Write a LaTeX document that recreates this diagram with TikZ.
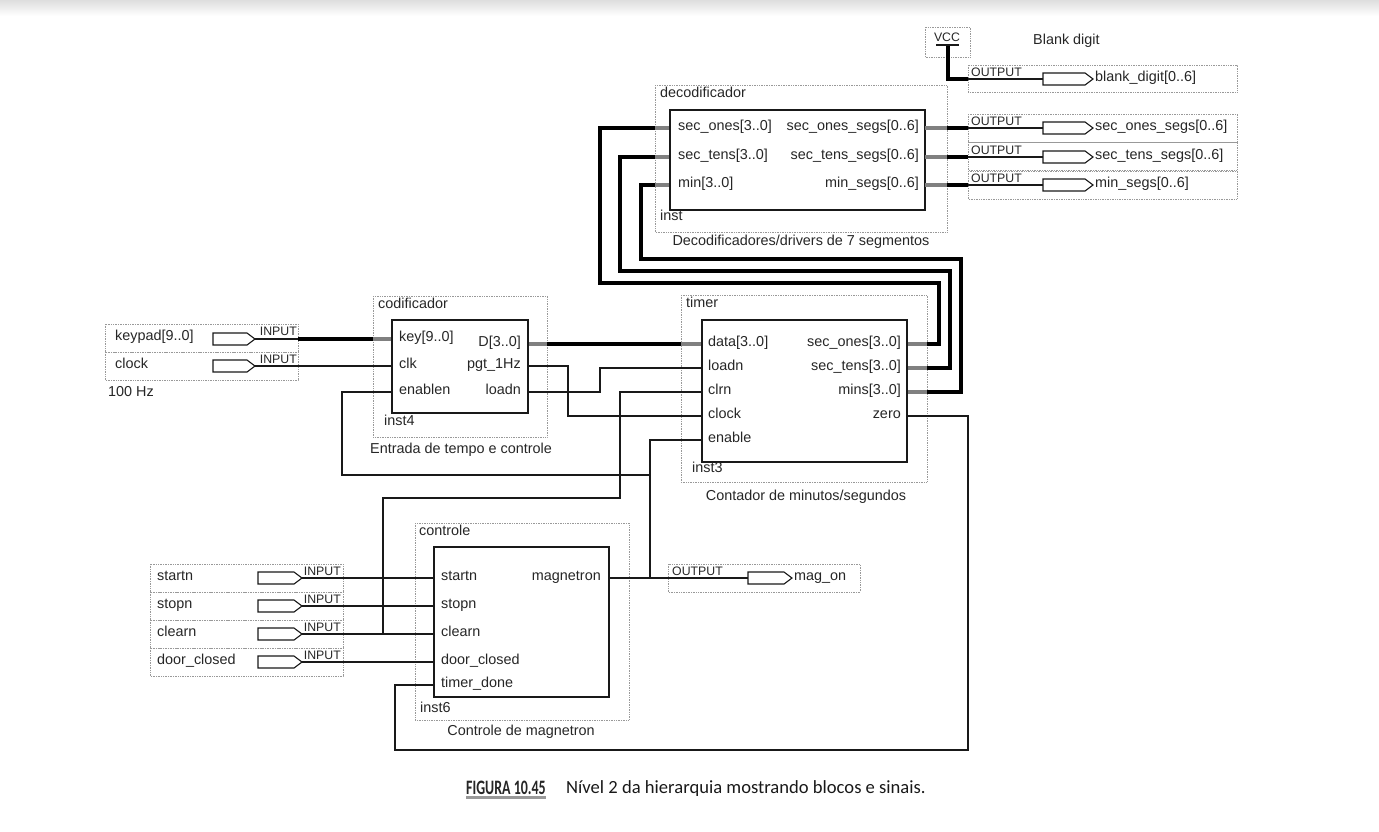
\documentclass[tikz,border=0pt]{standalone}
\usepackage{fontspec}
\setmainfont{Liberation Sans}
\newfontfamily\capfont{Carlito}
\newfontfamily\figfont[FakeStretch=0.68]{Carlito}
\usetikzlibrary{positioning}
\tikzstyle{frame} = [draw=black!40, densely dotted, line width=.7pt]
\tikzstyle{block} = [draw=black!90, line width=1.8pt]
\tikzstyle{wire} = [draw=black!90, line width=1.6pt]
\tikzstyle{bus} = [draw=black, line width=4.5pt]
\tikzstyle{stub} = [draw=black!50, line width=4.5pt]
\tikzstyle{pinshape} = [draw=black!90, line width=1.1pt, fill=white]
\tikzstyle{lbl} = [inner sep=0pt, text=black!85, font=\fontsize{14.4}{17}\selectfont]
\tikzstyle{tag} = [inner sep=0pt, text=black!85, font=\fontsize{12.3}{14}\selectfont]
% pin symbol: left end x, centre y, length
\newcommand{\iopin}[3]{\draw[pinshape] (#1,#2-6) -- ++(#3-8,0) -- ++(8,6) -- ++(-8,6) -- ++(8-#3,0) -- cycle;}

\begin{document}
\begin{tikzpicture}[x=1pt, y=-1pt]
\useasboundingbox (0,0) rectangle (1379,831);
\shade[top color=black!13, bottom color=white] (0,0) rectangle (1379,16);

% dotted frames
\draw[frame] (105,324) rectangle (298,352);
\draw[frame] (105,352) rectangle (298,380);
\draw[frame] (373,296) rectangle (547,437);
\draw[frame] (681,295) rectangle (927,482);
\draw[frame] (655,85) rectangle (947,232);
\draw[frame] (415,523) rectangle (629,720);
\draw[frame] (925,27) rectangle (970,57);
\draw[frame] (668,564) rectangle (860,592);
\foreach \y in {564,592,620,648} \draw[frame] (150,\y) rectangle (343,\y+28);
\draw[frame] (968,65) rectangle (1237,92);
\foreach \y in {114,142,171} \draw[frame] (968,\y) rectangle (1237,\y+28);

% ports
\coordinate (cod-key) at (392,339);
\coordinate (cod-clk) at (392,366);
\coordinate (cod-en) at (392,392);
\coordinate (cod-d) at (528,344);
\coordinate (cod-pgt) at (528,366);
\coordinate (cod-ld) at (528,392);
\coordinate (tim-data) at (702,344);
\coordinate (tim-ld) at (702,368);
\coordinate (tim-clr) at (702,392);
\coordinate (tim-clk) at (702,416);
\coordinate (tim-en) at (702,440);
\coordinate (tim-so) at (907,344);
\coordinate (tim-st) at (907,368);
\coordinate (tim-mn) at (907,392);
\coordinate (tim-zero) at (907,416);
\coordinate (dec-so) at (670,128);
\coordinate (dec-st) at (670,157);
\coordinate (dec-mn) at (670,185);
\coordinate (ctl-td) at (434,685);
\coordinate (ctl-mag) at (609,578);
\coordinate (mag-j) at (650,578);
\coordinate (en-j) at (650,475);
\coordinate (clr-j) at (383,634);
\coordinate (kp-pin) at (255,339);
\coordinate (clk-pin) at (255,366);
\coordinate (mag-pin) at (748,578);
\coordinate (vcc-o) at (948,45);
\coordinate (blank-e) at (968,79);

% inputs keypad / clock
\node[lbl, anchor=mid west] (keypad) at (115,338) {keypad[9..0]};
\node[lbl, anchor=mid west] (clock) at (115,366) {clock};
\node[lbl, anchor=mid west] (hz) at (108,394) {100 Hz};
\node[tag, anchor=base east] (kptag) at (297,335) {INPUT};
\node[tag, anchor=base east] (clktag) at (297,363) {INPUT};

% wires
\draw[wire] (kp-pin) -- (cod-key);
\draw[bus] ([xshift=43]kp-pin) -- ([xshift=-19]cod-key);
\draw[stub] ([xshift=-19]cod-key) -- (cod-key);
\draw[wire] (clk-pin) -- (cod-clk);
\draw[stub] (cod-d) -- ++(19,0);
\draw[bus] ([xshift=19]cod-d) -- ([xshift=-21]tim-data);
\draw[stub] ([xshift=-21]tim-data) -- (tim-data);
\draw[wire] (cod-pgt) -- ++(40,0) |- (tim-clk);
\draw[wire] (cod-ld) -- ++(72,0) |- (tim-ld);
\draw[wire] (tim-clr) -| (620,498) -| (clr-j);
\draw[wire] (tim-en) -| (mag-j);
\draw[wire] (cod-en) -| (342,475) -- (en-j);
\draw[wire] (ctl-mag) -- (mag-pin);
\draw[wire] (tim-zero) -| (968,750) -| ([xshift=-39]ctl-td) -- (ctl-td);
\foreach \p in {so,st,mn} \draw[stub] (tim-\p) -- ++(20,0);
\draw[bus] ([xshift=20]tim-so) -| (939,283) -| (600,128) -- ([xshift=-15]dec-so);
\draw[bus] ([xshift=20]tim-st) -| (950,271) -| (620,157) -- ([xshift=-15]dec-st);
\draw[bus] ([xshift=20]tim-mn) -| (961,259) -| (641,185) -- ([xshift=-15]dec-mn);
\foreach \p in {so,st,mn} \draw[stub] ([xshift=-15]dec-\p) -- (dec-\p);
\draw[bus] (vcc-o) |- (blank-e);

% codificador
\draw[block] (392,320) rectangle (528,413);
\node[lbl, anchor=mid west] (codname) at (378,306) {codificador};
\node[lbl, anchor=mid west] (codinst) at (384,423) {inst4};
\node[lbl] (codtitle) at (461,450) {Entrada de tempo e controle};
\node[lbl, anchor=mid west] (key) at (399,339) {key[9..0]};
\node[lbl, anchor=mid west] (clk) at (399,366) {clk};
\node[lbl, anchor=mid west] (enablen) at (399,392) {enablen};
\node[lbl, anchor=mid east] (dout) at (521,344) {D[3..0]};
\node[lbl, anchor=mid east] (pgt) at (521,366) {pgt\_1Hz};
\node[lbl, anchor=mid east] (ldout) at (521,392) {loadn};
\iopin{213}{339}{42}
\iopin{213}{366}{42}

% timer
\draw[block] (702,320) rectangle (907,462);
\node[lbl, anchor=mid west] (timname) at (686,305) {timer};
\node[lbl, anchor=mid west] (timinst) at (692,470) {inst3};
\node[lbl] (timtitle) at (806,497) {Contador de minutos/segundos};
\node[lbl, anchor=mid west] (data) at (708,344) {data[3..0]};
\node[lbl, anchor=mid west] (loadn) at (708,368) {loadn};
\node[lbl, anchor=mid west] (clrn) at (708,392) {clrn};
\node[lbl, anchor=mid west] (tclock) at (708,416) {clock};
\node[lbl, anchor=mid west] (enable) at (708,440) {enable};
\node[lbl, anchor=mid east] (secones) at (901,344) {sec\_ones[3..0]};
\node[lbl, anchor=mid east] (sectens) at (901,368) {sec\_tens[3..0]};
\node[lbl, anchor=mid east] (mins) at (901,392) {mins[3..0]};
\node[lbl, anchor=mid east] (zero) at (901,416) {zero};

% decodificador
\draw[block] (670,110) rectangle (925,210);
\node[lbl, anchor=mid west] (decname) at (660,95) {decodificador};
\node[lbl, anchor=mid west] (decinst) at (660,218) {inst};
\node[lbl] (dectitle) at (801,242) {Decodificadores/drivers de 7 segmentos};
\node[lbl, anchor=mid west] (dso) at (678,128) {sec\_ones[3..0]};
\node[lbl, anchor=mid west] (dst) at (678,157) {sec\_tens[3..0]};
\node[lbl, anchor=mid west] (dmn) at (678,185) {min[3..0]};
\node[lbl, anchor=mid east] (dsos) at (919,128) {sec\_ones\_segs[0..6]};
\node[lbl, anchor=mid east] (dsts) at (919,157) {sec\_tens\_segs[0..6]};
\node[lbl, anchor=mid east] (dmns) at (919,185) {min\_segs[0..6]};
\foreach \y in {128,157,185} {
  \draw[stub] (925,\y) -- (947,\y);
  \draw[bus] (947,\y) -- (968,\y);
}

% VCC and outputs
\node[tag] (vcc) at (947,37) {VCC};
\draw[wire] (936,45) -- (959,45);
\node[lbl, anchor=mid west] (blank) at (1033,42) {Blank digit};
\foreach \y/\txt [count=\i] in {79/blank\_digit[0..6], 128/sec\_ones\_segs[0..6], 157/sec\_tens\_segs[0..6], 185/min\_segs[0..6]} {
  \node[tag, anchor=base west] (otag\i) at (971,\y-3) {OUTPUT};
  \coordinate (oe\i) at (968,\y);
  \coordinate (op\i) at (1043,\y);
  \draw[wire] (oe\i) -- (op\i);
  \iopin{1043}{\y}{50}
  \node[lbl, anchor=mid west] (oname\i) at (1095,\y) {\txt};
}

% controle
\draw[block] (434,547) rectangle (609,697);
\node[lbl, anchor=mid west] (ctlname) at (419,533) {controle};
\node[lbl, anchor=mid west] (ctlinst) at (420,710) {inst6};
\node[lbl] (ctltitle) at (521,732) {Controle de magnetron};
\foreach \y/\txt [count=\i] in {578/startn, 606/stopn, 634/clearn, 662/door\_closed} {
  \coordinate (cin\i) at (302,\y);
  \coordinate (cport\i) at (434,\y);
  \draw[wire] (cin\i) -- (cport\i);
  \iopin{258}{\y}{44}
  \node[lbl, anchor=mid west] (cname\i) at (157,\y) {\txt};
  \node[tag, anchor=base east] (ctag\i) at (341,\y-3) {INPUT};
  \node[lbl, anchor=mid west] (cpin\i) at (441,\y) {\txt};
}
\node[lbl, anchor=mid west] (timerdone) at (441,685) {timer\_done};
\node[lbl, anchor=mid east] (magnetron) at (601,578) {magnetron};

% mag_on output
\node[tag, anchor=base west] (magtag) at (672,575) {OUTPUT};
\iopin{748}{578}{44}
\node[lbl, anchor=mid west] (magon) at (794,578) {mag\_on};

% caption
\node[anchor=base west, inner sep=0pt, text=black!85, font=\figfont\bfseries\fontsize{20.5}{23}\selectfont] (fig) at (466,794) {FIGURA 10.45};
\draw[black!40, line width=2.8pt] ([yshift=-3.5pt]fig.base west) -- ([yshift=-3.5pt]fig.base east);
\node[anchor=base west, inner sep=0pt, text=black!90, font=\capfont\fontsize{18.6}{21}\selectfont] (figtext) at (566,793) {Nível 2 da hierarquia mostrando blocos e sinais.};
\end{tikzpicture}
\end{document}
